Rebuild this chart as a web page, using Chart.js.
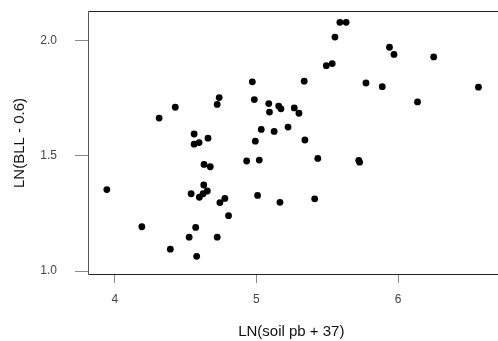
<!DOCTYPE html>
<html>
<head>
<meta charset="utf-8">
<script src="https://cdn.jsdelivr.net/npm/chart.js@4/dist/chart.umd.min.js"></script>
<style>
  body { margin: 0; background: #fff; }
  #wrap { width: 498px; height: 341px; position: relative; }
</style>
</head>
<body>
<div id="wrap"><canvas id="chart"></canvas></div>
<script>
// soil lead (log) vs blood lead (log)
const soilLn = [
    3.944, 4.191, 4.313, 4.427, 4.392, 4.525, 4.571, 4.578, 4.539, 4.560,
    4.560, 4.595, 4.658, 4.630, 4.674, 4.628, 4.653, 4.623, 4.597, 4.723,
    4.737, 4.742, 4.777, 4.803, 4.723, 4.971, 4.985, 4.931, 5.020, 4.992,
    5.034, 5.008, 5.087, 5.092, 5.125, 5.157, 5.173, 5.166, 5.223, 5.589,
    5.633, 5.554, 5.493, 5.535, 5.337, 5.773, 5.888, 5.939, 5.971, 6.251,
    6.567, 6.137, 5.267, 5.300, 5.342, 5.433, 5.722, 5.728, 5.411
];
const bllLn = [
    1.353, 1.192, 1.663, 1.710, 1.095, 1.147, 1.189, 1.064, 1.335, 1.594,
    1.550, 1.557, 1.576, 1.462, 1.452, 1.373, 1.347, 1.335, 1.320, 1.722,
    1.752, 1.297, 1.315, 1.240, 1.147, 1.820, 1.743, 1.477, 1.481, 1.563,
    1.614, 1.328, 1.726, 1.689, 1.605, 1.715, 1.703, 1.298, 1.624, 2.078,
    2.078, 2.014, 1.890, 1.899, 1.823, 1.815, 1.799, 1.970, 1.939, 1.928,
    1.797, 1.733, 1.707, 1.684, 1.568, 1.488, 1.480, 1.472, 1.313
];
const xTicks = [4, 5, 6];
const yTicks = [1.0, 1.5, 2.0];

const points = soilLn.map((x, i) => ({ x: x, y: bllLn[i] }));

// open frame: top and bottom dark, left axis grey, nothing on the right
const frame = {
    id: 'frame',
    afterDraw(chart) {
        const a = chart.chartArea;
        const c = chart.ctx;
        const l = Math.round(a.left) + 0.5, t = Math.round(a.top) + 0.5, b = Math.round(a.bottom) - 0.5;
        c.save();
        c.lineWidth = 1;
        c.strokeStyle = '#222';
        c.beginPath();
        c.moveTo(l, t); c.lineTo(chart.width, t);
        c.moveTo(l, b); c.lineTo(chart.width, b);
        c.stroke();
        c.strokeStyle = '#555';
        c.beginPath();
        c.moveTo(l, t); c.lineTo(l, b);
        c.stroke();
        c.restore();
    }
};

const font = { family: 'Liberation Sans, Arial, sans-serif' };

new Chart(document.getElementById('chart'), {
    type: 'scatter',
    data: {
        datasets: [{
            data: points,
            backgroundColor: '#000',
            borderColor: '#000',
            borderWidth: 0,
            pointRadius: 3.4,
            pointHoverRadius: 3.4
        }]
    },
    options: {
        responsive: true,
        maintainAspectRatio: false,
        animation: false,
        layout: { padding: { top: 11, right: 0, left: 0, bottom: 0 } },
        plugins: {
            legend: { display: false },
            tooltip: { enabled: false }
        },
        scales: {
            x: {
                type: 'linear',
                min: 3.811,
                max: 6.681,
                afterBuildTicks: s => { s.ticks = xTicks.map(v => ({ value: v })); },
                afterFit: s => { s.height = 66; s.paddingLeft = 0; s.paddingRight = 0; },
                border: { display: false },
                grid: { drawOnChartArea: false, drawTicks: true, tickLength: 8, color: '#888' },
                ticks: { padding: 9, color: '#444', font: { ...font, size: 12 }, callback: v => String(v) },
                title: { display: true, text: 'LN(soil pb + 37)', color: '#111',
                    font: { ...font, size: 15 }, padding: { top: 8, bottom: 0 } }
            },
            y: {
                type: 'linear',
                min: 0.983,
                max: 2.127,
                afterBuildTicks: s => { s.ticks = yTicks.map(v => ({ value: v })); },
                afterFit: s => { s.width = 88; s.paddingTop = 0; s.paddingBottom = 0; },
                border: { display: false },
                grid: { drawOnChartArea: false, drawTicks: true, tickLength: 13, color: '#888' },
                ticks: { padding: 18, color: '#444', font: { ...font, size: 12 }, callback: v => v.toFixed(1) },
                title: { display: true, text: 'LN(BLL - 0.6)', color: '#111',
                    font: { ...font, size: 15 }, padding: { top: 11, bottom: 0 } }
            }
        }
    },
    plugins: [frame]
});
</script>
</body>
</html>
